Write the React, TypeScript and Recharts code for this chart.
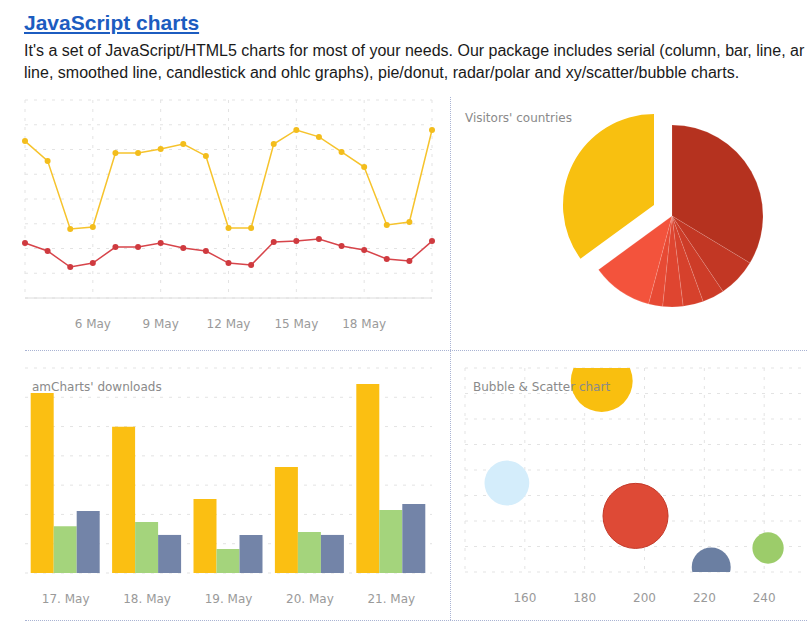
import React from "react";
import {
  LineChart, Line, XAxis, YAxis, CartesianGrid,
  PieChart, Pie, Cell,
  BarChart, Bar,
  ScatterChart, Scatter, ZAxis,
} from "recharts";

// visitors line chart (3 May .. 21 May)
const days = [
  "3 May", "4 May", "5 May", "6 May", "7 May", "8 May", "9 May", "10 May", "11 May", "12 May",
  "13 May", "14 May", "15 May", "16 May", "17 May", "18 May", "19 May", "20 May", "21 May",
];
const visits = [63.4, 55.4, 27.9, 28.7, 58.6, 58.6, 60.2, 62.2, 57.4, 28.3, 28.3, 62.2, 67.9, 65.1, 59.0, 52.9, 29.5, 30.7, 67.9];
const views = [22.2, 19.0, 12.5, 14.1, 20.6, 20.6, 22.2, 20.2, 19.0, 14.1, 13.3, 22.6, 23.0, 23.8, 21.0, 19.4, 15.8, 15.0, 23.0];
const dayTicks = ["6 May", "9 May", "12 May", "15 May", "18 May"];
const lineYTicks = [0, 10, 20, 30, 40, 50, 60, 70, 80];

// visitors' countries pie
const countries = ["Lithuania", "Czech Republic", "Ireland", "Germany", "Australia", "Austria", "UK", "USA"];
const countryShare = [33.6, 6.9, 3.9, 3.6, 3.6, 2.5, 10.8, 35.0];
const countryColors = ["#b5321f", "#c23724", "#cd3c28", "#d6412c", "#df4530", "#e74a34", "#f3533c", "#f8c010"];

// amCharts' downloads
const downloadDays = ["17. May", "18. May", "19. May", "20. May", "21. May"];
const downloadsJs = [61.5, 49.9, 25.3, 36.2, 64.5];
const downloadsFlash = [16.0, 17.4, 8.2, 14.0, 21.5];
const downloadsStock = [21.2, 13.0, 13.0, 13.0, 23.6];
const barYTicks = [0, 10, 20, 30, 40, 50, 60, 70];

// bubble & scatter
const bubbleX = [185.7, 154, 197, 222.3, 241.3];
const bubbleY = [74.9, 34.9, 22, 2, 9.4];
const bubbleValue = [86, 45, 95, 34, 22];
const bubbleColors = ["#f9bf0f", "#d4edfb", "#de4a36", "#6b7fa2", "#9ccc6a"];
const bubbleStroke = ["none", "none", "#c43a2a", "none", "none"];
const bubbleXTicks = [160, 180, 200, 220, 240];
const bubbleYTicks = [0, 10, 20, 30, 40, 50, 60, 70, 80];

const lineData = days.map((d, i) => ({ day: d, visits: visits[i], views: views[i] }));
const pieData = countries.map((c, i) => ({ country: c, share: countryShare[i] }));
const barData = downloadDays.map((d, i) => ({
  day: d, js: downloadsJs[i], flash: downloadsFlash[i], stock: downloadsStock[i],
}));
const bubbleData = bubbleX.map((x, i) => ({ x, y: bubbleY[i], value: bubbleValue[i] }));

const tickFont = { fill: "#9a9a9a", fontSize: 12, fontFamily: "DejaVu Sans" };
const gridColor = "#e3e3e3";
const divider = "1px dotted #a9b3d3";
const chartTitle: React.CSSProperties = {
  position: "absolute", fontFamily: "DejaVu Sans", fontSize: 12, lineHeight: "14px",
  color: "#8a8a8a", pointerEvents: "none", zIndex: 2, whiteSpace: "nowrap",
};

export default function App() {
  return (
    <div style={{
      position: "absolute", left: 0, top: 0, width: 807, height: 625, overflow: "hidden",
      background: "#fff", fontFamily: "'Liberation Sans', Arial, sans-serif",
    }}>
      <div style={{
        position: "absolute", left: 24, top: 11, fontSize: 21, lineHeight: "24px",
        fontWeight: "bold", color: "#1c5cc0", textDecoration: "underline",
      }}>JavaScript charts</div>
      <div style={{ position: "absolute", left: 24, top: 40, fontSize: 16, lineHeight: "22px", color: "#1a1a1a", whiteSpace: "nowrap" }}>
        <div>It's a set of JavaScript/HTML5 charts for most of your needs. Our package includes serial (column, bar, line, ar</div>
        <div>line, smoothed line, candlestick and ohlc graphs), pie/donut, radar/polar and xy/scatter/bubble charts.</div>
      </div>

      {/* dividers */}
      <div style={{ position: "absolute", left: 450, top: 97, height: 523, borderLeft: divider }} />
      <div style={{ position: "absolute", left: 25, top: 350, width: 782, borderTop: divider }} />
      <div style={{ position: "absolute", left: 25, top: 620, width: 782, borderTop: divider }} />

      {/* line chart */}
      <div style={{ position: "absolute", left: 0, top: 90 }}>
        <LineChart width={450} height={255} data={lineData} margin={{ top: 10, right: 18, left: 25, bottom: 0 }}>
          <CartesianGrid stroke={gridColor} strokeDasharray="3 6" />
          <XAxis dataKey="day" ticks={dayTicks} interval={0} axisLine={{ stroke: "#dcdcdc" }}
            tickLine={false} tickMargin={15} height={47} tick={tickFont} />
          <YAxis hide domain={[0, 80]} ticks={lineYTicks} />
          <Line dataKey="visits" stroke="#f6c32c" strokeWidth={1.5} isAnimationActive={false}
            dot={{ r: 3, fill: "#f3bd1c", stroke: "#f3bd1c", strokeWidth: 0 }} />
          <Line dataKey="views" stroke="#d7444a" strokeWidth={1.5} isAnimationActive={false}
            dot={{ r: 3, fill: "#cf3a3f", stroke: "#cf3a3f", strokeWidth: 0 }} />
        </LineChart>
      </div>

      {/* pie chart */}
      <div style={{ ...chartTitle, left: 465, top: 111 }}>Visitors' countries</div>
      <div style={{ position: "absolute", left: 451, top: 97 }}>
        <PieChart width={356} height={248} margin={{ top: 0, right: 0, left: 0, bottom: 0 }}>
          <Pie data={pieData} dataKey="share" nameKey="country" cx={221} cy={119} outerRadius={91}
            startAngle={90} endAngle={-270} isAnimationActive={false}>
            {pieData.map((d, i) => (
              <Cell key={d.country} fill={i === pieData.length - 1 ? "none" : countryColors[i]}
                stroke={i === pieData.length - 1 ? "none" : "#ffffff"} strokeOpacity={0.2} strokeWidth={0.6} />
            ))}
          </Pie>
          <Pie data={pieData} dataKey="share" nameKey="country" cx={203} cy={108} outerRadius={91}
            startAngle={90} endAngle={-270} isAnimationActive={false}>
            {pieData.map((d, i) => (
              <Cell key={d.country} fill={i === pieData.length - 1 ? countryColors[i] : "none"}
                stroke="none" />
            ))}
          </Pie>
        </PieChart>
      </div>

      {/* bar chart */}
      <div style={{ ...chartTitle, left: 32, top: 380 }}>amCharts' downloads</div>
      <div style={{ position: "absolute", left: 0, top: 355 }}>
        <BarChart width={450} height={265} data={barData} barGap={0} barCategoryGap="7%"
          margin={{ top: 13, right: 18, left: 25, bottom: 0 }}>
          <CartesianGrid stroke={gridColor} strokeDasharray="3 6" vertical={false} />
          <XAxis dataKey="day" axisLine={false} tickLine={false} tickMargin={15} height={47} tick={tickFont} />
          <YAxis hide domain={[0, 70]} ticks={barYTicks} />
          <Bar dataKey="js" fill="#fbbf12" isAnimationActive={false} />
          <Bar dataKey="flash" fill="#a4d47c" isAnimationActive={false} />
          <Bar dataKey="stock" fill="#7384a8" isAnimationActive={false} />
        </BarChart>
      </div>

      {/* bubble chart */}
      <div style={{ ...chartTitle, left: 473, top: 380 }}>Bubble &amp; Scatter chart</div>
      <div style={{ position: "absolute", left: 451, top: 355, width: 356, height: 265, overflow: "hidden" }}>
        <ScatterChart width={373} height={265} margin={{ top: 13, right: 0, left: 14, bottom: 0 }}>
          <CartesianGrid stroke={gridColor} strokeDasharray="3 6" />
          <XAxis type="number" dataKey="x" domain={[140, 260]} ticks={bubbleXTicks} axisLine={false}
            tickLine={false} tickMargin={15} height={48} tick={tickFont} />
          <YAxis type="number" dataKey="y" hide domain={[0, 80]} ticks={bubbleYTicks} allowDataOverflow />
          <ZAxis type="number" dataKey="value" domain={[0, 100]} range={[0, 3500]} />
          <Scatter data={bubbleData} isAnimationActive={false}>
            {bubbleData.map((d, i) => (
              <Cell key={i} fill={bubbleColors[i]} stroke={bubbleStroke[i]} strokeWidth={1} />
            ))}
          </Scatter>
        </ScatterChart>
      </div>
    </div>
  );
}
